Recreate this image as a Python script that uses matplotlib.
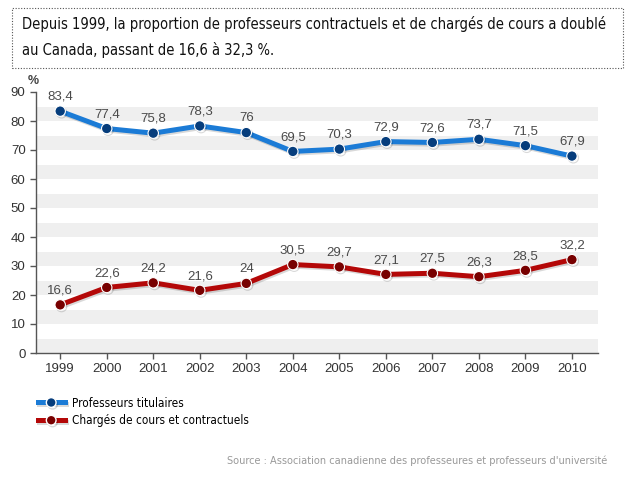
import matplotlib.pyplot as plt
import matplotlib.patheffects as pe
from matplotlib.lines import Line2D
from matplotlib.patches import Rectangle
from matplotlib import font_manager as fm

years = [1999, 2000, 2001, 2002, 2003, 2004, 2005, 2006, 2007, 2008, 2009, 2010]
titulaires = [83.4, 77.4, 75.8, 78.3, 76, 69.5, 70.3, 72.9, 72.6, 73.7, 71.5, 67.9]
charges = [16.6, 22.6, 24.2, 21.6, 24, 30.5, 29.7, 27.1, 27.5, 26.3, 28.5, 32.2]
yticks = [0, 10, 20, 30, 40, 50, 60, 70, 80, 90]

title = ("Depuis 1999, la proportion de professeurs contractuels et de chargés de cours a doublé\n"
         "au Canada, passant de 16,6 à 32,3 %.")
source = "Source : Association canadienne des professeures et professeurs d'université"

# narrow font for the title / legend, like the original's Tahoma-ish face
cond = [f.fname for f in fm.fontManager.ttflist if f.name == 'DejaVu Sans' and 'Condensed' in f.fname and 'Bold' not in f.fname and 'Oblique' not in f.fname]
narrow = fm.FontProperties(fname=cond[0]) if cond else fm.FontProperties(family='DejaVu Sans')

def fmt(v):
    return ('%g' % v).replace('.', ',')

plt.rcParams['font.family'] = ['Liberation Sans', 'DejaVu Sans']

fig = plt.figure(figsize=(6.35, 4.8), dpi=100)
ax = fig.add_axes([36/635, 1-353/480, 562/635, 261/480])

# grey stripes
for y0 in range(0, 90, 10):
    ax.axhspan(y0, y0 + 5, color='#efefef', zorder=0, lw=0)

shadow = [pe.SimpleLineShadow(offset=(1, -1.2), shadow_color='#000000', alpha=0.15), pe.Normal()]
ax.plot(years, titulaires, color='#1b7bd6', lw=3.6, marker='o', ms=7.5,
        mfc='#063d7c', mec='white', mew=0.8, path_effects=shadow, zorder=3)
ax.plot(years, charges, color='#b40808', lw=3.6, marker='o', ms=7.5,
        mfc='#780000', mec='white', mew=0.8, path_effects=shadow, zorder=3)

for x, v in zip(years, titulaires):
    ax.annotate(fmt(v), (x, v), xytext=(0, 6), textcoords='offset points',
                ha='center', va='bottom', fontsize=9.5, color='#4a4a4a')
for x, v in zip(years, charges):
    ax.annotate(fmt(v), (x, v), xytext=(0, 6), textcoords='offset points',
                ha='center', va='bottom', fontsize=9.5, color='#4a4a4a')

ax.set_xlim(1998.48, 2010.56)
ax.set_ylim(0, 90)
ax.set_xticks(years)
ax.set_yticks(yticks)
ax.tick_params(colors='#555555', labelcolor='#333333', labelsize=9.5, length=4, width=1)
for s in ['top', 'right']:
    ax.spines[s].set_visible(False)
for s in ['left', 'bottom']:
    ax.spines[s].set_color('#555555')
    ax.spines[s].set_linewidth(1)
ax.text(-0.004, 1.02, '%', transform=ax.transAxes, ha='center', va='bottom',
        fontsize=9, fontweight='bold', color='#444444')

# title box
fig.patches.append(Rectangle((12/635, 1-68/480), 611/635, 60/480, transform=fig.transFigure,
                             fill=False, ec='#555555', lw=0.8, ls=(0, (1, 1.5))))
tp = narrow.copy()
tp.set_size(10.5)
fig.text(22/635, 1-37/480, title, fontproperties=tp,
         va='center', ha='left', color='#111111', linespacing=1.75)

# legend
handles = [Line2D([], [], color='#1b7bd6', lw=3.6, marker='o', ms=7, mfc='#063d7c', mec='white',
                  path_effects=shadow),
           Line2D([], [], color='#b40808', lw=3.6, marker='o', ms=7, mfc='#780000', mec='white',
                  path_effects=shadow)]
lp = narrow.copy()
lp.set_size(8.5)
fig.legend(handles, ['Professeurs titulaires', 'Chargés de cours et contractuels'],
           loc='upper left', bbox_to_anchor=(27/635, 1-386/480), frameon=False,
           handlelength=2.3, handletextpad=0.6, labelspacing=0.4, prop=lp)

sp = narrow.copy()
sp.set_size(7.8)
fig.text(607/635, 1-461/480, source, ha='right', va='center', fontproperties=sp,
         color='#999999')

fig.savefig('out.png', dpi=100)
